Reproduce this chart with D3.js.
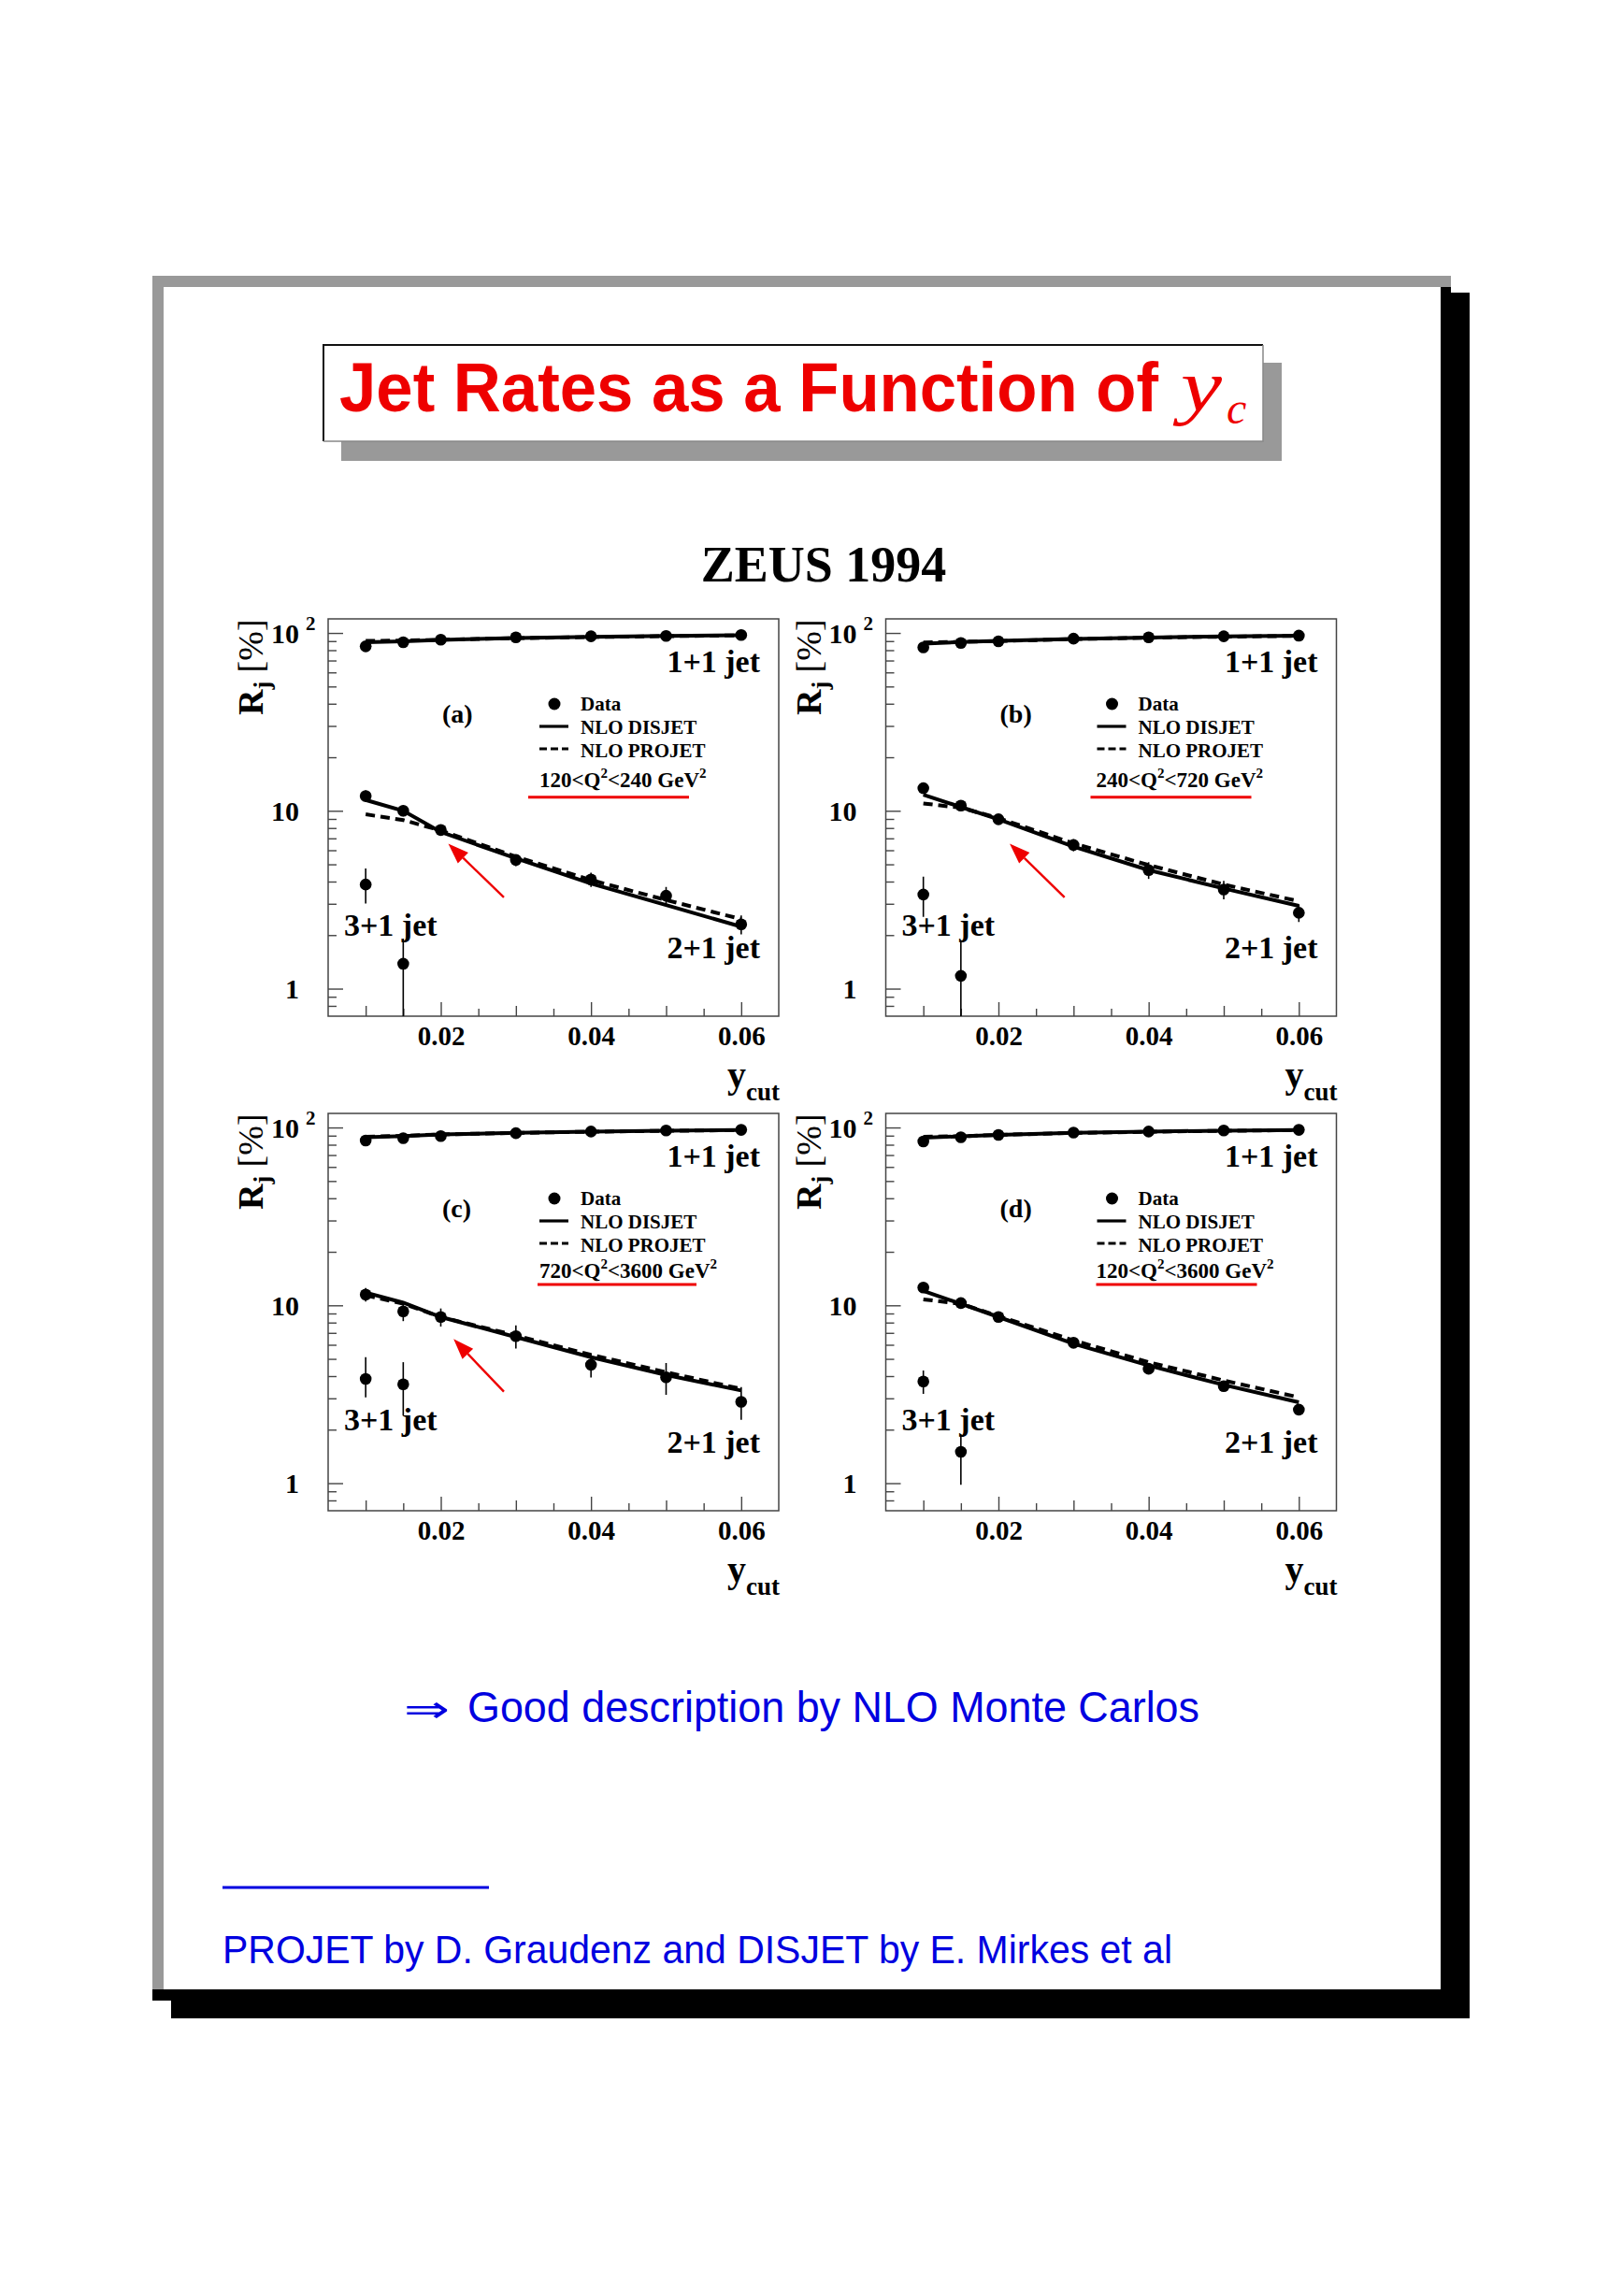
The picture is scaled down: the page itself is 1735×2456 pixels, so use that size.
<!DOCTYPE html>
<html><head><meta charset="utf-8">
<script src="https://cdn.jsdelivr.net/npm/d3@7/dist/d3.min.js"></script>
<style>body{margin:0;background:#fff}svg{display:block}</style>
</head><body>
<svg id="c" width="1735" height="2456"></svg>
<script>
// ---------------- data ----------------
const yCut = [0.01, 0.015, 0.02, 0.03, 0.04, 0.05, 0.06];
const yCut3 = [0.01, 0.015];
const xTickLabels = [0.02, 0.04, 0.06];
const yTickLabels = [1, 10, 100];
const panelNames = ["(a)", "(b)", "(c)", "(d)"];
const q2Lo = ["120", "240", "720", "120"];
const q2Hi = ["240", "720", "3600", "3600"];

// panel (a) 120<Q2<240
const a11 = [84.1, 88.6, 91.7, 94.5, 95.8, 96.2, 97.4];
const a21 = [12.1, 10.0, 7.8, 5.29, 4.11, 3.33, 2.30];
const a21e = [0.9, 0.7, 0.5, 0.4, 0.38, 0.4, 0.28];
const a31 = [3.85, 1.38];
const a31lo = [3.01, 0.5];
const a31hi = [4.74, 1.91];
const aDis11 = [88.6, 89.8, 91.5, 93.6, 95.0, 96.2, 97.2];
const aDis21 = [11.5, 10.0, 7.6, 5.4, 3.90, 2.95, 2.23];
const aPro11 = [90.3, 90.6, 91.6, 93.5, 94.8, 95.9, 96.9];
const aPro21 = [9.55, 8.87, 7.75, 5.52, 4.08, 3.15, 2.46];

// panel (b) 240<Q2<720
const b11 = [83.0, 87.8, 89.7, 92.9, 94.5, 95.8, 96.6];
const b21 = [13.4, 10.7, 8.96, 6.42, 4.64, 3.61, 2.67];
const b21e = [0.8, 0.6, 0.5, 0.5, 0.5, 0.43, 0.3];
const b31 = [3.38, 1.18];
const b31lo = [2.53, 0.5];
const b31hi = [4.26, 1.87];
const bDis11 = [87.2, 88.9, 90.2, 92.6, 94.3, 95.6, 96.6];
const bDis21 = [12.3, 10.5, 8.96, 6.29, 4.64, 3.66, 2.92];
const bPro11 = [88.4, 89.2, 90.0, 92.4, 94.0, 95.3, 96.3];
const bPro21 = [11.0, 10.4, 9.1, 6.56, 4.95, 3.85, 3.10];

// panel (c) 720<Q2<3600
const c11 = [84.5, 87.1, 89.4, 92.9, 94.9, 96.2, 97.0];
const c21 = [11.5, 9.25, 8.6, 6.71, 4.63, 3.94, 2.87];
const c21e = [1.0, 1.1, 1.0, 1.0, 0.7, 0.8, 0.6];
const c31 = [3.86, 3.60];
const c31lo = [3.04, 2.40];
const c31hi = [5.11, 4.79];
const cDis11 = [88.2, 89.6, 91.4, 93.4, 94.9, 95.9, 96.7];
const cDis21 = [11.8, 10.35, 8.6, 6.63, 5.11, 4.06, 3.32];
const cPro11 = [88.6, 89.8, 91.4, 93.2, 94.7, 95.8, 96.6];
const cPro21 = [11.4, 10.2, 8.6, 6.77, 5.27, 4.21, 3.39];

// panel (d) 120<Q2<3600
const d11 = [83.4, 88.2, 90.9, 93.7, 94.9, 96.2, 97.0];
const d21 = [12.6, 10.3, 8.6, 6.16, 4.40, 3.51, 2.59];
const d21e = [0.5, 0.4, 0.3, 0.3, 0.25, 0.2, 0.18];
const d31 = [3.73, 1.50];
const d31lo = [3.18, 0.98];
const d31hi = [4.30, 1.89];
const dDis11 = [87.5, 89.3, 90.9, 93.4, 94.9, 96.0, 96.9];
const dDis21 = [12.05, 10.2, 8.6, 6.08, 4.59, 3.57, 2.85];
const dPro11 = [88.7, 89.3, 90.8, 93.2, 94.6, 95.8, 96.6];
const dPro21 = [10.8, 10.2, 8.7, 6.35, 4.79, 3.78, 3.04];

// red arrow annotations (data coords: [yCut, R])
const arrowTip = [[0.0210, 6.54], [0.0215, 6.54], [0.0217, 6.47], null];
const arrowTail = [[0.0284, 3.26], [0.0288, 3.26], [0.0284, 3.27], null];

// ---------------- layout ----------------
const svg = d3.select("#c");
const serif = "'Liberation Serif','Times New Roman',serif";
const sans = "'Liberation Sans',Arial,Helvetica,sans-serif";
const RED = "#ee0000", BLUE = "#0000e0";
const W = 482, H = 425;
const x = d3.scaleLinear().domain([0.005, 0.065]).range([0, W]);
const y = d3.scaleLog().domain([0.7, 120]).range([H, 0]);

// page frame with shadow
svg.append("rect").attr("x", 183).attr("y", 313).attr("width", 1572 - 183).attr("height", 2159 - 313).attr("fill", "#000");
svg.append("rect").attr("x", 163).attr("y", 295).attr("width", 1552 - 163).attr("height", 2140 - 295).attr("fill", "#000");
svg.append("rect").attr("x", 163).attr("y", 295).attr("width", 1552 - 163).attr("height", 12).attr("fill", "#999");
svg.append("rect").attr("x", 163).attr("y", 295).attr("width", 12).attr("height", 2128 - 295).attr("fill", "#999");
svg.append("rect").attr("x", 175).attr("y", 307).attr("width", 1541 - 175).attr("height", 2128 - 307).attr("fill", "#fff");

// title box
svg.append("rect").attr("x", 365).attr("y", 388).attr("width", 1371 - 365).attr("height", 493 - 388).attr("fill", "#999");
svg.append("rect").attr("x", 346).attr("y", 369).attr("width", 1351 - 346).attr("height", 472 - 369).attr("fill", "#fff");
svg.append("path").attr("d", "M346,472V369H1351").attr("fill", "none").attr("stroke", "#111").attr("stroke-width", 2);
svg.append("path").attr("d", "M1351,369V472H346").attr("fill", "none").attr("stroke", "#888").attr("stroke-width", 1.5);
svg.append("text").attr("transform", "translate(363,440) scale(1,1.05)").attr("font-family", sans).attr("font-weight", "bold")
  .attr("font-size", 70.5).attr("fill", RED).attr("textLength", 876).attr("lengthAdjust", "spacingAndGlyphs")
  .text("Jet Rates as a Function of");
svg.append("text").attr("x", 1263).attr("y", 439).attr("font-family", serif).attr("font-style", "italic")
  .attr("font-size", 78).attr("fill", RED).attr("textLength", 44).attr("lengthAdjust", "spacingAndGlyphs").text("y");
svg.append("text").attr("x", 1312).attr("y", 453).attr("font-family", serif).attr("font-style", "italic")
  .attr("font-size", 48).attr("fill", RED).text("c");

// ZEUS 1994
svg.append("text").attr("x", 881).attr("y", 622).attr("text-anchor", "middle").attr("font-family", serif)
  .attr("font-weight", "bold").attr("font-size", 54).attr("fill", "#000").text("ZEUS 1994");

// ---------------- panels ----------------
const panelData = [
  {o: [351, 662], r11: a11, r21: a21, e21: a21e, r31: a31, lo31: a31lo, hi31: a31hi, dis11: aDis11, dis21: aDis21, pro11: aPro11, pro21: aPro21,
   qx: 226, qy: 179.7, lx1: 214, lx2: 386, ly: 190.7},
  {o: [947.5, 662], r11: b11, r21: b21, e21: b21e, r31: b31, lo31: b31lo, hi31: b31hi, dis11: bDis11, dis21: bDis21, pro11: bPro11, pro21: bPro21,
   qx: 225, qy: 179.7, lx1: 219, lx2: 391, ly: 190.7},
  {o: [351, 1191], r11: c11, r21: c21, e21: c21e, r31: c31, lo31: c31lo, hi31: c31hi, dis11: cDis11, dis21: cDis21, pro11: cPro11, pro21: cPro21,
   qx: 226, qy: 176, lx1: 224, lx2: 394, ly: 183},
  {o: [947.5, 1191], r11: d11, r21: d21, e21: d21e, r31: d31, lo31: d31lo, hi31: d31hi, dis11: dDis11, dis21: dDis21, pro11: dPro11, pro21: dPro21,
   qx: 225, qy: 176, lx1: 225, lx2: 397, ly: 183}
];

const AX = "#444";
const line = d3.line().x(d => x(d[0])).y(d => y(d[1]));
const xPrimary = xTickLabels;
const xSecondary = [10, 30, 50].map(v => v / 1000);
const xTertiary = [15, 25, 35, 45, 55].map(v => v / 1000);
const yMinor = [0.8, 0.9, 2, 3, 4, 5, 6, 7, 8, 9, 20, 30, 40, 50, 60, 70, 80, 90];

panelData.forEach((p, i) => {
  const g = svg.append("g").attr("transform", `translate(${p.o[0]},${p.o[1]})`);
  const cid = "clip" + i;
  g.append("clipPath").attr("id", cid).append("rect").attr("width", W).attr("height", H);

  // axes (ticks inward)
  const styleAxis = sel => { sel.select(".domain").remove(); sel.selectAll("line").attr("stroke", AX).attr("stroke-width", 1.4); };
  g.append("g").attr("transform", `translate(0,${H})`)
    .call(d3.axisBottom(x).tickValues(xTertiary).tickSize(-8).tickFormat("")).call(styleAxis);
  g.append("g").attr("transform", `translate(0,${H})`)
    .call(d3.axisBottom(x).tickValues(xSecondary).tickSize(-11).tickFormat("")).call(styleAxis);
  const gxl = g.append("g").attr("transform", `translate(0,${H})`)
    .call(d3.axisBottom(x).tickValues(xPrimary).tickSize(-15).tickPadding(10.5).tickFormat(d3.format(".2f"))).call(styleAxis);
  gxl.selectAll("text").attr("font-family", serif).attr("font-weight", "bold").attr("font-size", 29).attr("fill", "#000");
  gxl.attr("font-size", null).attr("font-family", null);

  g.append("g").call(d3.axisLeft(y).tickValues(yMinor).tickSize(-9).tickFormat("")).call(styleAxis);
  g.append("g").call(d3.axisLeft(y).tickValues(yTickLabels).tickSize(-16).tickFormat("")).call(styleAxis);

  // y tick labels
  yTickLabels.forEach(v => {
    const t = g.append("text").attr("x", -31).attr("y", y(v)).attr("dy", "0.35em").attr("text-anchor", "end")
      .attr("font-family", serif).attr("font-weight", "bold").attr("font-size", 30).attr("fill", "#000");
    if (v === 100) {
      t.text("10");
      g.append("text").attr("x", -24).attr("y", y(v) - 3).attr("font-family", serif).attr("font-weight", "bold")
        .attr("font-size", 21).attr("fill", "#000").text("2");
    } else t.text(String(v));
  });

  // frame
  g.append("rect").attr("width", W).attr("height", H).attr("fill", "none").attr("stroke", AX).attr("stroke-width", 1.5);

  // y title
  const yl = g.append("text").attr("transform", "translate(-70,103) rotate(-90)").attr("font-family", serif)
    .attr("font-weight", "bold").attr("font-size", 38).attr("fill", "#000");
  yl.append("tspan").text("R");
  yl.append("tspan").attr("font-size", 26).attr("dy", 8).text("j");
  yl.append("tspan").attr("dy", -8).attr("font-weight", "normal").text(" [%]");

  // x title
  const xl = g.append("text").attr("x", 483).attr("y", 501).attr("text-anchor", "end").attr("font-family", serif)
    .attr("font-weight", "bold").attr("fill", "#000");
  xl.append("tspan").attr("font-size", 40).text("y");
  xl.append("tspan").attr("font-size", 27).attr("dy", 14).text("cut");

  // data layer
  const dg = g.append("g").attr("clip-path", `url(#${cid})`);
  const curve = (vals, dashed) => dg.append("path").attr("d", line(yCut.map((c, k) => [c, vals[k]])))
    .attr("fill", "none").attr("stroke", "#000").attr("stroke-width", 4)
    .attr("stroke-dasharray", dashed ? "10 6" : null);
  curve(p.pro11, true); curve(p.pro21, true);
  curve(p.dis11, false); curve(p.dis21, false);

  // error bars
  const eb = (xv, lo, hi) => dg.append("line").attr("x1", x(xv)).attr("x2", x(xv)).attr("y1", y(Math.max(lo, 0.3))).attr("y2", y(hi))
    .attr("stroke", "#000").attr("stroke-width", 1.6);
  yCut.forEach((c, k) => { eb(c, p.r21[k] - p.e21[k], p.r21[k] + p.e21[k]); eb(c, p.r11[k] - 1, p.r11[k] + 1); });
  yCut3.forEach((c, k) => eb(c, p.lo31[k], p.hi31[k]));

  // markers
  const mk = (xv, v) => dg.append("circle").attr("cx", x(xv)).attr("cy", y(v)).attr("r", 6.3).attr("fill", "#000");
  yCut.forEach((c, k) => { mk(c, p.r11[k]); mk(c, p.r21[k]); });
  yCut3.forEach((c, k) => mk(c, p.r31[k]));

  // jet labels
  const lab = (tx, ty, anchor, s, size) => g.append("text").attr("x", tx).attr("y", ty).attr("text-anchor", anchor)
    .attr("font-family", serif).attr("font-weight", "bold").attr("font-size", size).attr("fill", "#000").text(s);
  lab(462, 57, "end", "1+1 jet", 34);
  lab(462, 363, "end", "2+1 jet", 34);
  lab(17, 339, "start", "3+1 jet", 34);
  lab(122, 111, "start", panelNames[i], 28);

  // legend
  g.append("circle").attr("cx", 242).attr("cy", 91).attr("r", 6.5).attr("fill", "#000");
  lab(270, 98, "start", "Data", 21);
  g.append("line").attr("x1", 226).attr("x2", 257).attr("y1", 115).attr("y2", 115).attr("stroke", "#000").attr("stroke-width", 3.2);
  lab(270, 123, "start", "NLO DISJET", 21);
  g.append("line").attr("x1", 226).attr("x2", 257).attr("y1", 139).attr("y2", 139).attr("stroke", "#000").attr("stroke-width", 3.2)
    .attr("stroke-dasharray", "8 4");
  lab(270, 148, "start", "NLO PROJET", 21);
  const qt = g.append("text").attr("x", p.qx).attr("y", p.qy).attr("font-family", serif).attr("font-weight", "bold")
    .attr("font-size", 23).attr("fill", "#000");
  qt.append("tspan").text(q2Lo[i] + "<Q");
  qt.append("tspan").attr("font-size", 15).attr("dy", -10).text("2");
  qt.append("tspan").attr("dy", 10).text("<" + q2Hi[i] + " GeV");
  qt.append("tspan").attr("font-size", 15).attr("dy", -10).text("2");
  g.append("line").attr("x1", p.lx1).attr("x2", p.lx2).attr("y1", p.ly).attr("y2", p.ly).attr("stroke", RED).attr("stroke-width", 3);

  // red arrow
  if (arrowTip[i]) {
    const tx = x(arrowTip[i][0]), ty = y(arrowTip[i][1]);
    const sx = x(arrowTail[i][0]), sy = y(arrowTail[i][1]);
    const dx = tx - sx, dy = ty - sy, L = Math.hypot(dx, dy), ux = dx / L, uy = dy / L;
    const hl = 22, hw = 8;
    const bx = tx - ux * hl, by = ty - uy * hl;
    g.append("line").attr("x1", sx).attr("y1", sy).attr("x2", bx).attr("y2", by).attr("stroke", RED).attr("stroke-width", 2.4);
    g.append("path").attr("d", `M${tx},${ty}L${bx - uy * hw},${by + ux * hw}L${bx + uy * hw},${by - ux * hw}Z`).attr("fill", RED);
  }
});

// ---------------- bottom texts ----------------
svg.append("text").attr("x", 432).attr("y", 1842).attr("font-family", "'DejaVu Sans',sans-serif").attr("font-size", 40)
  .attr("fill", BLUE).attr("textLength", 49).attr("lengthAdjust", "spacingAndGlyphs").text("\u21D2");
svg.append("text").attr("x", 500).attr("y", 1842).attr("font-family", sans).attr("font-size", 46).attr("fill", BLUE)
  .attr("textLength", 783).attr("lengthAdjust", "spacingAndGlyphs").text("Good description by NLO Monte Carlos");
svg.append("line").attr("x1", 238).attr("x2", 523).attr("y1", 2019).attr("y2", 2019).attr("stroke", BLUE).attr("stroke-width", 3);
svg.append("text").attr("x", 238).attr("y", 2100).attr("font-family", sans).attr("font-size", 42).attr("fill", BLUE)
  .attr("textLength", 1016).attr("lengthAdjust", "spacingAndGlyphs").text("PROJET by D. Graudenz and DISJET by E. Mirkes et al");
</script>
</body></html>
